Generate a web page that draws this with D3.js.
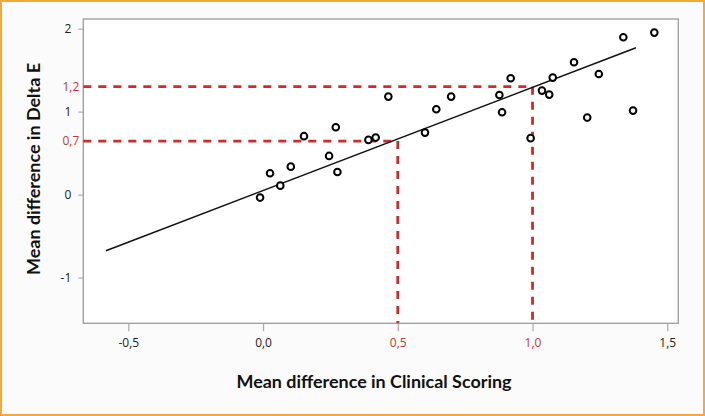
<!DOCTYPE html>
<html>
<head>
<meta charset="utf-8">
<script src="https://cdn.jsdelivr.net/npm/d3@7"></script>
<style>
  html, body { margin: 0; padding: 0; background: #fbfbfb; }
  svg { display: block; }
</style>
</head>
<body>
<svg id="chart" width="705" height="416"></svg>
<script>
// ---- data ----
const pointsX = [-0.011, 0.026, 0.064, 0.103, 0.152, 0.270, 0.245, 0.276, 0.391, 0.418,
                 0.465, 0.601, 0.643, 0.698, 0.919, 0.877, 0.887, 0.993, 1.035, 1.062,
                 1.075, 1.154, 1.246, 1.337, 1.452, 1.203, 1.373];
const pointsY = [-0.036, 0.258, 0.108, 0.337, 0.704, 0.812, 0.466, 0.273, 0.659, 0.687,
                 1.181, 0.747, 1.029, 1.181, 1.402, 1.201, 0.993, 0.680, 1.253, 1.205,
                 1.410, 1.595, 1.454, 1.896, 1.952, 0.928, 1.012];
const fitX = [-0.583, 1.384];
const fitY = [-0.676, 1.770];
const xTicks = [-0.5, 0.0, 0.5, 1.0, 1.5];
const xTickLabels = ["-0,5", "0,0", "0,5", "1,0", "1,5"];
const yTicks = [-1, 0, 1, 2];
const yTickLabels = ["-1", "0", "1", "2"];
const refX = [0.5, 1.0];          // vertical reference lines (x values)
const refY = [0.645, 1.30];       // matching predicted y values
const refYLabels = ["0,7", "1,2"];
const xTitle = "Mean difference in Clinical Scoring";
const yTitle = "Mean difference in Delta E";

// ---- layout ----
const W = 705, H = 416;
const plot = { left: 83.3, right: 678.3, top: 19, bottom: 323.3 };
const svg = d3.select("#chart");
const red = "#cf2b2b", redText = "#c43a32", grey = "#9c9c9c";
const tickFont = "'Open Sans', 'Liberation Sans', sans-serif";

const x = d3.scaleLinear().domain([-0.667, 1.541]).range([plot.left, plot.right]);
const y = d3.scaleLinear().domain([-1.551, 2.116]).range([plot.bottom, plot.top]);

// outer frame
svg.append("rect").attr("x", 1).attr("y", 1).attr("width", W - 2).attr("height", H - 2)
  .attr("fill", "#fbfbfb").attr("stroke", "#f4a93a").attr("stroke-width", 2);

// plot area
svg.append("rect").attr("x", plot.left).attr("y", plot.top)
  .attr("width", plot.right - plot.left).attr("height", plot.bottom - plot.top)
  .attr("fill", "#ffffff").attr("stroke", grey).attr("stroke-width", 1.3);

// axes
const xAxis = svg.append("g").attr("transform", `translate(0,${plot.bottom})`)
  .call(d3.axisBottom(x).tickValues(xTicks).tickSize(8).tickPadding(7)
        .tickFormat((d, i) => xTickLabels[i]));
xAxis.select(".domain").remove();
xAxis.selectAll(".tick line").attr("stroke", "#aaaaaa").attr("stroke-width", 1.2);
xAxis.selectAll(".tick text")
  .attr("font-family", tickFont).attr("font-size", 12)
  .attr("fill", (d) => refX.includes(d) ? redText : "#222222");

const yAxis = svg.append("g").attr("transform", `translate(${plot.left},0)`)
  .call(d3.axisLeft(y).tickValues(yTicks).tickSize(5).tickPadding(7)
        .tickFormat((d, i) => yTickLabels[i]));
yAxis.select(".domain").remove();
yAxis.selectAll(".tick line").attr("stroke", "#aaaaaa").attr("stroke-width", 1.2);
yAxis.selectAll(".tick text")
  .attr("font-family", tickFont).attr("font-size", 12).attr("fill", "#222222");

// red reference labels on y axis
svg.selectAll("text.reflab").data(refY).join("text")
  .attr("class", "reflab")
  .attr("x", plot.left - 4).attr("y", (d) => y(d)).attr("dy", "0.35em")
  .attr("text-anchor", "end")
  .attr("font-family", tickFont).attr("font-size", 12).attr("fill", redText)
  .text((d, i) => refYLabels[i]);

// dashed reference lines
const refG = svg.append("g").attr("stroke", red).attr("stroke-width", 2.8)
  .attr("stroke-dasharray", "8,7").attr("fill", "none");
refX.forEach((xv, i) => {
  refG.append("line").attr("x1", plot.left).attr("x2", x(xv))
    .attr("y1", y(refY[i])).attr("y2", y(refY[i]));
  refG.append("line").attr("x1", x(xv)).attr("x2", x(xv))
    .attr("y1", y(refY[i])).attr("y2", plot.bottom);
});

// regression line
svg.append("line")
  .attr("x1", x(fitX[0])).attr("y1", y(fitY[0]))
  .attr("x2", x(fitX[1])).attr("y2", y(fitY[1]))
  .attr("stroke", "#111111").attr("stroke-width", 1.5);

// points
svg.append("g").selectAll("circle").data(pointsX).join("circle")
  .attr("cx", (d) => x(d)).attr("cy", (d, i) => y(pointsY[i]))
  .attr("r", 3.3).attr("fill", "#ffffff").attr("stroke", "#000000").attr("stroke-width", 2);

// titles
svg.append("text").attr("x", 374).attr("y", 388)
  .attr("text-anchor", "middle").attr("font-family", "Lato, 'Open Sans', sans-serif")
  .attr("font-weight", "bold").attr("font-size", 16.5).attr("fill", "#111111")
  .attr("textLength", 275).attr("lengthAdjust", "spacingAndGlyphs")
  .text(xTitle);

svg.append("text").attr("transform", "translate(40,169) rotate(-90)")
  .attr("text-anchor", "middle").attr("font-family", "Lato, 'Open Sans', sans-serif")
  .attr("font-weight", "bold").attr("font-size", 16.5).attr("fill", "#111111")
  .attr("textLength", 212).attr("lengthAdjust", "spacingAndGlyphs")
  .text(yTitle);
</script>
</body>
</html>
